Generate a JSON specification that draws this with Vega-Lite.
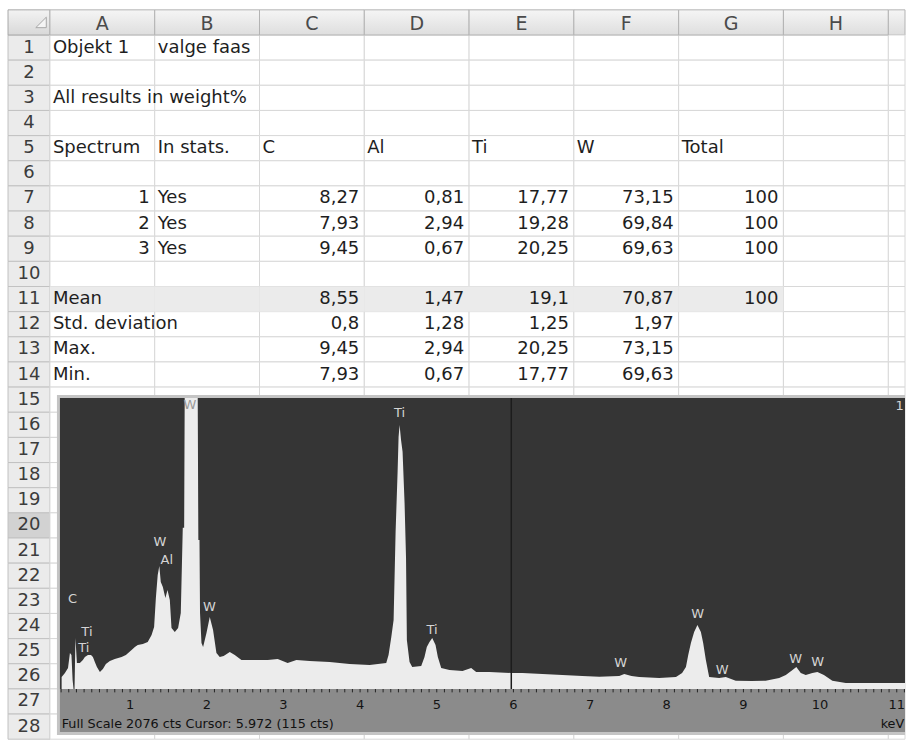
{
  "$schema": "https://vega.github.io/schema/vega-lite/v6.json",
  "width": 906,
  "height": 740,
  "autosize": {"type": "fit", "contains": "padding"},
  "padding": 0,
  "background": "white",
  "config": {"view": {"stroke": null}},
  "datasets": {
    "sheet": [
      {"row": 1, "A": "Objekt 1", "B": "valge faas"},
      {"row": 2},
      {"row": 3, "A": "All results in weight%"},
      {"row": 4},
      {"row": 5, "A": "Spectrum", "B": "In stats.", "C": "C", "D": "Al", "E": "Ti", "F": "W", "G": "Total"},
      {"row": 6},
      {"row": 7, "A": "1", "B": "Yes", "C": "8,27", "D": "0,81", "E": "17,77", "F": "73,15", "G": "100"},
      {"row": 8, "A": "2", "B": "Yes", "C": "7,93", "D": "2,94", "E": "19,28", "F": "69,84", "G": "100"},
      {"row": 9, "A": "3", "B": "Yes", "C": "9,45", "D": "0,67", "E": "20,25", "F": "69,63", "G": "100"},
      {"row": 10},
      {"row": 11, "A": "Mean", "C": "8,55", "D": "1,47", "E": "19,1", "F": "70,87", "G": "100"},
      {"row": 12, "A": "Std. deviation", "C": "0,8", "D": "1,28", "E": "1,25", "F": "1,97"},
      {"row": 13, "A": "Max.", "C": "9,45", "D": "2,94", "E": "20,25", "F": "73,15"},
      {"row": 14, "A": "Min.", "C": "7,93", "D": "0,67", "E": "17,77", "F": "69,63"},
      {"row": 15}, {"row": 16}, {"row": 17}, {"row": 18}, {"row": 19}, {"row": 20}, {"row": 21},
      {"row": 22}, {"row": 23}, {"row": 24}, {"row": 25}, {"row": 26}, {"row": 27}, {"row": 28}
    ],
    "cols": [{"col": "A"}, {"col": "B"}, {"col": "C"}, {"col": "D"}, {"col": "E"}, {"col": "F"}, {"col": "G"}, {"col": "H"}],
    "spectrum": [{"k":0.107,"c":86},{"k":0.15,"c":114},{"k":0.19,"c":150},{"k":0.215,"c":257},{"k":0.235,"c":243},{"k":0.25,"c":64},{"k":0.262,"c":0},{"k":0.275,"c":0},{"k":0.287,"c":364},{"k":0.306,"c":185},{"k":0.345,"c":185},{"k":0.384,"c":207},{"k":0.41,"c":228},{"k":0.45,"c":243},{"k":0.49,"c":243},{"k":0.515,"c":228},{"k":0.54,"c":193},{"k":0.567,"c":157},{"k":0.606,"c":121},{"k":0.645,"c":143},{"k":0.684,"c":178},{"k":0.736,"c":200},{"k":0.8,"c":214},{"k":0.889,"c":228},{"k":0.945,"c":243},{"k":1.019,"c":278},{"k":1.062,"c":300},{"k":1.1,"c":314},{"k":1.166,"c":321},{"k":1.23,"c":335},{"k":1.28,"c":385},{"k":1.313,"c":442},{"k":1.336,"c":649},{"k":1.36,"c":813},{"k":1.381,"c":877},{"k":1.4,"c":763},{"k":1.427,"c":728},{"k":1.46,"c":649},{"k":1.488,"c":706},{"k":1.518,"c":635},{"k":1.54,"c":435},{"k":1.583,"c":407},{"k":1.626,"c":435},{"k":1.661,"c":542},{"k":1.687,"c":1149},{"k":1.705,"c":1149},{"k":1.712,"c":2075},{"k":1.882,"c":2075},{"k":1.89,"c":1063},{"k":1.905,"c":1063},{"k":1.912,"c":542},{"k":1.931,"c":328},{"k":1.952,"c":300},{"k":1.996,"c":400},{"k":2.039,"c":514},{"k":2.082,"c":421},{"k":2.126,"c":257},{"k":2.169,"c":228},{"k":2.22,"c":235},{"k":2.3,"c":264},{"k":2.365,"c":243},{"k":2.452,"c":207},{"k":2.625,"c":207},{"k":2.795,"c":207},{"k":2.925,"c":214},{"k":3.055,"c":185},{"k":3.169,"c":207},{"k":3.342,"c":200},{"k":3.603,"c":193},{"k":3.863,"c":178},{"k":4.124,"c":171},{"k":4.341,"c":185},{"k":4.371,"c":243},{"k":4.407,"c":371},{"k":4.437,"c":492},{"k":4.463,"c":1120},{"k":4.489,"c":1548},{"k":4.502,"c":1798},{"k":4.515,"c":1883},{"k":4.534,"c":1776},{"k":4.554,"c":1691},{"k":4.58,"c":1327},{"k":4.599,"c":935},{"k":4.61,"c":350},{"k":4.645,"c":193},{"k":4.68,"c":157},{"k":4.797,"c":164},{"k":4.84,"c":228},{"k":4.87,"c":300},{"k":4.905,"c":335},{"k":4.941,"c":364},{"k":4.984,"c":314},{"k":5.014,"c":228},{"k":5.058,"c":150},{"k":5.166,"c":136},{"k":5.336,"c":128},{"k":5.449,"c":150},{"k":5.514,"c":121},{"k":5.687,"c":121},{"k":5.97,"c":114},{"k":6.117,"c":114},{"k":6.378,"c":107},{"k":6.638,"c":100},{"k":6.899,"c":93},{"k":7.12,"c":88},{"k":7.38,"c":93},{"k":7.446,"c":107},{"k":7.54,"c":93},{"k":7.64,"c":86},{"k":7.9,"c":78},{"k":8.12,"c":86},{"k":8.2,"c":114},{"k":8.25,"c":157},{"k":8.28,"c":243},{"k":8.315,"c":328},{"k":8.357,"c":407},{"k":8.4,"c":457},{"k":8.445,"c":407},{"k":8.475,"c":328},{"k":8.51,"c":207},{"k":8.553,"c":86},{"k":8.683,"c":78},{"k":8.77,"c":86},{"k":8.9,"c":59},{"k":9.114,"c":57},{"k":9.29,"c":59},{"k":9.466,"c":78},{"k":9.553,"c":100},{"k":9.64,"c":136},{"k":9.69,"c":157},{"k":9.748,"c":114},{"k":9.813,"c":100},{"k":9.899,"c":114},{"k":9.965,"c":121},{"k":10.05,"c":100},{"k":10.16,"c":59},{"k":10.335,"c":43},{"k":10.77,"c":43},{"k":11.1075,"c":43}],
    "peaks": [{"el":"C","k":0.248,"c":642},{"el":"Ti","k":0.437,"c":406},{"el":"Ti","k":0.397,"c":289},{"el":"W","k":1.388,"c":1048},{"el":"Al","k":1.479,"c":920},{"el":"W","k":2.033,"c":585},{"el":"Ti","k":4.514,"c":1968},{"el":"Ti","k":4.938,"c":421},{"el":"W","k":7.4,"c":182},{"el":"W","k":8.404,"c":538},{"el":"W","k":8.723,"c":132},{"el":"W","k":9.681,"c":217},{"el":"W","k":9.967,"c":196},{"el":"1","k":11.036,"c":2021}],
    "toppeak": [{"el":"W","k":1.779,"c":2025}],
    "ticks": [{"k":0.1},{"k":0.2},{"k":0.3},{"k":0.4},{"k":0.5},{"k":0.6},{"k":0.7},{"k":0.8},{"k":0.9},{"k":1},{"k":1.1},{"k":1.2},{"k":1.3},{"k":1.4},{"k":1.5},{"k":1.6},{"k":1.7},{"k":1.8},{"k":1.9},{"k":2},{"k":2.1},{"k":2.2},{"k":2.3},{"k":2.4},{"k":2.5},{"k":2.6},{"k":2.7},{"k":2.8},{"k":2.9},{"k":3},{"k":3.1},{"k":3.2},{"k":3.3},{"k":3.4},{"k":3.5},{"k":3.6},{"k":3.7},{"k":3.8},{"k":3.9},{"k":4},{"k":4.1},{"k":4.2},{"k":4.3},{"k":4.4},{"k":4.5},{"k":4.6},{"k":4.7},{"k":4.8},{"k":4.9},{"k":5},{"k":5.1},{"k":5.2},{"k":5.3},{"k":5.4},{"k":5.5},{"k":5.6},{"k":5.7},{"k":5.8},{"k":5.9},{"k":6},{"k":6.1},{"k":6.2},{"k":6.3},{"k":6.4},{"k":6.5},{"k":6.6},{"k":6.7},{"k":6.8},{"k":6.9},{"k":7},{"k":7.1},{"k":7.2},{"k":7.3},{"k":7.4},{"k":7.5},{"k":7.6},{"k":7.7},{"k":7.8},{"k":7.9},{"k":8},{"k":8.1},{"k":8.2},{"k":8.3},{"k":8.4},{"k":8.5},{"k":8.6},{"k":8.7},{"k":8.8},{"k":8.9},{"k":9},{"k":9.1},{"k":9.2},{"k":9.3},{"k":9.4},{"k":9.5},{"k":9.6},{"k":9.7},{"k":9.8},{"k":9.9},{"k":10},{"k":10.1},{"k":10.2},{"k":10.3},{"k":10.4},{"k":10.5},{"k":10.6},{"k":10.7},{"k":10.8},{"k":10.9},{"k":11},{"k":11.1}],
    "kev": [{"k":1},{"k":2},{"k":3},{"k":4},{"k":5},{"k":6},{"k":7},{"k":8},{"k":9},{"k":10},{"k":11}],
    "cursor": [{"k": 5.972, "c": 115}],
    "footer": [{"label": "Full Scale 2076 cts Cursor: 5.972 (115 cts)"}],
    "unit": [{"label": "keV"}]
  },
  "layer": [
    {
      "layer": [
        {
          "layer": [
            {
              "data": {"name": "sheet"},
              "mark": {"type": "rect", "stroke": "#c2c2c2", "strokeWidth": 1},
              "encoding": {
                "x": {"datum": -0.4, "type": "quantitative", "scale": {"type": "linear", "domain": [-0.47664, 8.16015], "nice": false, "zero": false}, "axis": null},
                "x2": {"datum": 0},
                "y": {"field": "row", "type": "ordinal", "scale": {"type": "band", "domain": [0,1,2,3,4,5,6,7,8,9,10,11,12,13,14,15,16,17,18,19,20,21,22,23,24,25,26,27,28], "paddingInner": 0, "paddingOuter": 0.2117, "align": 0.925, "round": false}, "axis": null},
                "fill": {"condition": {"test": "datum.row === 20", "value": "#d2d2d2"}, "value": "#ebebeb"}
              }
            },
            {
              "data": {"name": "sheet"},
              "mark": {"type": "text", "font": "DejaVu Sans", "fontSize": 18, "color": "#3c3c3c", "baseline": "middle", "align": "center"},
              "encoding": {
                "x": {"datum": -0.2, "type": "quantitative"},
                "y": {"field": "row", "type": "ordinal"},
                "text": {"field": "row"}
              }
            },
            {
              "data": {"values": [{}]},
              "mark": {"type": "rect", "stroke": "#a9a9a9", "strokeWidth": 1, "fill": {"gradient": "linear", "x1": 0, "y1": 0, "x2": 0, "y2": 1, "stops": [{"offset": 0, "color": "#f3f3f3"}, {"offset": 1, "color": "#d8d8d8"}]}},
              "encoding": {
                "x": {"datum": -0.4, "type": "quantitative"},
                "x2": {"datum": 0},
                "y": {"datum": 0, "type": "ordinal"}
              }
            },
            {
              "data": {"values": [{}]},
              "mark": {"type": "point", "shape": "M1,1L1,-1L-1,1Z", "size": 110, "filled": true, "fill": "#f4f4f4", "stroke": "#a8a8a8", "strokeWidth": 1, "opacity": 1},
              "encoding": {
                "x": {"datum": -0.085, "type": "quantitative"},
                "y": {"datum": 0, "type": "ordinal"}
              }
            },
            {
              "data": {"values": [{}]},
              "mark": {"type": "rect", "stroke": "#b3b3b3", "strokeWidth": 1, "fill": {"gradient": "linear", "x1": 0, "y1": 0, "x2": 0, "y2": 1, "stops": [{"offset": 0, "color": "#f5f5f5"}, {"offset": 1, "color": "#dedede"}]}},
              "encoding": {
                "x": {"datum": 8, "type": "quantitative"},
                "x2": {"datum": 8.16015},
                "y": {"datum": 0, "type": "ordinal"}
              }
            },
            {
              "data": {"name": "sheet"},
              "mark": {"type": "rect", "fill": "white", "stroke": "#d8d8d8", "strokeWidth": 1},
              "encoding": {
                "x": {"datum": 8, "type": "quantitative"},
                "x2": {"datum": 8.16015},
                "y": {"field": "row", "type": "ordinal"}
              }
            }
          ]
        },
        {
          "layer": [
            {
              "data": {"name": "sheet"},
              "transform": [{"fold": ["A", "B", "C", "D", "E", "F", "G", "H"]}],
              "mark": {"type": "rect", "fill": "white", "stroke": "#d8d8d8", "strokeWidth": 1},
              "encoding": {
                "x": {"field": "key", "type": "nominal", "scale": {"type": "band", "domain": ["A","B","C","D","E","F","G","H"], "paddingInner": 0, "paddingOuter": 0.3184, "align": 0.7485, "round": false}, "axis": null},
                "y": {"field": "row", "type": "ordinal", "scale": {"type": "band", "domain": [0,1,2,3,4,5,6,7,8,9,10,11,12,13,14,15,16,17,18,19,20,21,22,23,24,25,26,27,28], "paddingInner": 0, "paddingOuter": 0.2117, "align": 0.925, "round": false}, "axis": null}
              }
            },
            {
              "data": {"name": "sheet"},
              "transform": [{"fold": ["A", "B", "C", "D", "E", "F", "G", "H"]}, {"filter": "datum.row === 11 && datum.key !== 'H'"}],
              "mark": {"type": "rect", "fill": "#ebebeb", "strokeWidth": 0},
              "encoding": {
                "x": {"field": "key", "type": "nominal"},
                "y": {"field": "row", "type": "ordinal"}
              }
            },
            {
              "data": {"name": "cols"},
              "mark": {"type": "rect", "stroke": "#b3b3b3", "strokeWidth": 1, "fill": {"gradient": "linear", "x1": 0, "y1": 0, "x2": 0, "y2": 1, "stops": [{"offset": 0, "color": "#f5f5f5"}, {"offset": 1, "color": "#dedede"}]}},
              "encoding": {
                "x": {"field": "col", "type": "nominal"},
                "y": {"datum": 0, "type": "ordinal"}
              }
            },
            {
              "data": {"name": "cols"},
              "mark": {"type": "text", "font": "DejaVu Sans", "fontSize": 19, "color": "#4a4a4a", "baseline": "middle", "align": "center", "dy": 1.5},
              "encoding": {
                "x": {"field": "col", "type": "nominal"},
                "y": {"datum": 0, "type": "ordinal"},
                "text": {"field": "col"}
              }
            },
            {
              "data": {"name": "sheet"},
              "transform": [{"fold": ["A", "B", "C", "D", "E", "F", "G", "H"]}, {"filter": "isString(datum.value) && !test(regexp('^[0-9]+(,[0-9]+)?$'), datum.value)"}],
              "mark": {"type": "text", "font": "DejaVu Sans", "fontSize": 18, "color": "#1e1e1e", "baseline": "middle", "align": "left", "dx": 3},
              "encoding": {
                "x": {"field": "key", "type": "nominal", "bandPosition": 0},
                "y": {"field": "row", "type": "ordinal"},
                "text": {"field": "value"}
              }
            },
            {
              "data": {"name": "sheet"},
              "transform": [{"fold": ["A", "B", "C", "D", "E", "F", "G", "H"]}, {"filter": "isString(datum.value) && test(regexp('^[0-9]+(,[0-9]+)?$'), datum.value)"}],
              "mark": {"type": "text", "font": "DejaVu Sans", "fontSize": 18, "color": "#1e1e1e", "baseline": "middle", "align": "right", "dx": -5},
              "encoding": {
                "x": {"field": "key", "type": "nominal", "bandPosition": 1},
                "y": {"field": "row", "type": "ordinal"},
                "text": {"field": "value"}
              }
            }
          ]
        }
      ],
      "resolve": {"scale": {"x": "independent"}}
    },
    {
      "layer": [
        {
          "data": {"values": [{}]},
          "mark": {"type": "rect", "fill": "#c4c4c4"},
          "encoding": {
            "x": {"datum": 0.0456, "type": "quantitative", "scale": {"type": "linear", "domain": [-0.6971, 11.1075], "nice": false, "zero": false}, "axis": null},
            "x2": {"datum": 11.1075},
            "y": {"datum": -328, "type": "quantitative", "scale": {"type": "linear", "domain": [-363.6, 4912.6], "nice": false, "zero": false}, "axis": null},
            "y2": {"datum": 2096}
          }
        },
        {
          "data": {"values": [{}]},
          "mark": {"type": "rect", "fill": "#353535"},
          "encoding": {
            "x": {"datum": 0.0847, "type": "quantitative"},
            "x2": {"datum": 11.1075},
            "y": {"datum": 0, "type": "quantitative"},
            "y2": {"datum": 2075}
          }
        },
        {
          "data": {"values": [{}]},
          "mark": {"type": "rect", "fill": "#8b8b8b"},
          "encoding": {
            "x": {"datum": 0.0847, "type": "quantitative"},
            "x2": {"datum": 11.1075},
            "y": {"datum": -306.6, "type": "quantitative"},
            "y2": {"datum": 0}
          }
        },
        {
          "data": {"name": "spectrum"},
          "mark": {"type": "area", "color": "#ececec", "interpolate": "linear", "opacity": 1},
          "encoding": {
            "x": {"field": "k", "type": "quantitative"},
            "y": {"field": "c", "type": "quantitative"}
          }
        },
        {
          "data": {"name": "ticks"},
          "mark": {"type": "rule", "color": "#262626", "strokeWidth": 1},
          "encoding": {
            "x": {"field": "k", "type": "quantitative"},
            "y": {"datum": 0, "type": "quantitative"},
            "y2": {"datum": -24}
          }
        },
        {
          "data": {"name": "kev"},
          "mark": {"type": "text", "font": "DejaVu Sans", "fontSize": 13, "color": "#141414", "baseline": "middle", "align": "center"},
          "encoding": {
            "x": {"field": "k", "type": "quantitative"},
            "y": {"datum": -114, "type": "quantitative"},
            "text": {"field": "k", "type": "quantitative", "format": "d"}
          }
        },
        {
          "data": {"name": "cursor"},
          "mark": {"type": "rule", "color": "#1c1c1c", "strokeWidth": 1.5},
          "encoding": {
            "x": {"field": "k", "type": "quantitative"},
            "y": {"datum": 0, "type": "quantitative"},
            "y2": {"datum": 2075}
          }
        },
        {
          "data": {"name": "peaks"},
          "mark": {"type": "text", "font": "DejaVu Sans", "fontSize": 13, "color": "#d4d4d4", "baseline": "middle", "align": "center"},
          "encoding": {
            "x": {"field": "k", "type": "quantitative"},
            "y": {"field": "c", "type": "quantitative"},
            "text": {"field": "el"}
          }
        },
        {
          "data": {"name": "toppeak"},
          "mark": {"type": "text", "font": "DejaVu Sans", "fontSize": 13, "color": "#9a9a9a", "baseline": "middle", "align": "center"},
          "encoding": {
            "x": {"field": "k", "type": "quantitative"},
            "y": {"field": "c", "type": "quantitative"},
            "text": {"field": "el"}
          }
        },
        {
          "data": {"name": "footer"},
          "mark": {"type": "text", "font": "DejaVu Sans", "fontSize": 12.8, "color": "#111111", "baseline": "middle", "align": "left"},
          "encoding": {
            "x": {"datum": 0.107, "type": "quantitative"},
            "y": {"datum": -246, "type": "quantitative"},
            "text": {"field": "label"}
          }
        },
        {
          "data": {"name": "unit"},
          "mark": {"type": "text", "font": "DejaVu Sans", "fontSize": 12.8, "color": "#111111", "baseline": "middle", "align": "left"},
          "encoding": {
            "x": {"datum": 10.79, "type": "quantitative"},
            "y": {"datum": -246, "type": "quantitative"},
            "text": {"field": "label"}
          }
        }
      ]
    }
  ],
  "resolve": {"scale": {"x": "independent", "y": "independent"}}
}
